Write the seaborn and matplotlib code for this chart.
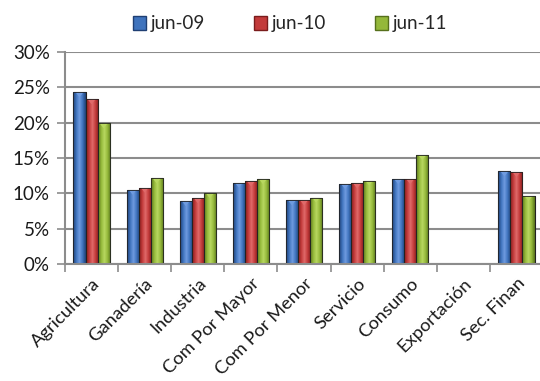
import numpy as np
import pandas as pd
import matplotlib
matplotlib.use("Agg")
import matplotlib.pyplot as plt
from matplotlib.colors import LinearSegmentedColormap
from matplotlib.ticker import PercentFormatter
from matplotlib.patches import Patch
import seaborn as sns

categories = ["Agricultura", "Ganadería", "Industria", "Com Por Mayor", "Com Por Menor",
              "Servicio", "Consumo", "Exportación", "Sec. Finan"]
series = ["jun-09", "jun-10", "jun-11"]
jun09 = [24.3, 10.5, 8.9, 11.5, 9.0, 11.3, 12.0, np.nan, 13.1]
jun10 = [23.3, 10.8, 9.3, 11.7, 9.0, 11.4, 12.0, np.nan, 13.0]
jun11 = [19.9, 12.1, 10.0, 12.0, 9.4, 11.8, 15.4, np.nan, 9.6]

df = pd.DataFrame({
    "categoria": categories * 3,
    "serie": [s for s in series for _ in categories],
    "valor": jun09 + jun10 + jun11,
})

base = {"jun-09": "#3f73bd", "jun-10": "#c33a3a", "jun-11": "#94b83a"}
dark = {"jun-09": "#1f3f73", "jun-10": "#7a1c1c", "jun-11": "#56701c"}
light = {"jun-09": "#6f9be0", "jun-10": "#e06a6a", "jun-11": "#b8d860"}

sns.set_style("white")
plt.rcParams["font.family"] = ["Lato", "DejaVu Sans"]

fig = plt.figure(figsize=(5.40, 3.81), dpi=100)
ax = fig.add_axes([65 / 540, 1 - 264 / 381, (543 - 65) / 540, (264 - 52) / 381])

sns.barplot(data=df, x="categoria", y="valor", hue="serie", palette=base,
            width=0.68, gap=0, ax=ax, legend=False, linewidth=0.8,
            edgecolor="#222222", saturation=1)

# cylinder-style horizontal shading on every bar
grad = np.linspace(0, 1, 64)[None, :]
for container, s in zip(ax.containers, series):
    cmap = LinearSegmentedColormap.from_list(
        s, [dark[s], base[s], light[s], base[s], dark[s]])
    for patch in container:
        h = patch.get_height()
        if not np.isfinite(h) or h <= 0:
            continue
        x0 = patch.get_x()
        w = patch.get_width()
        im = ax.imshow(grad, cmap=cmap, aspect="auto",
                       extent=(x0, x0 + w, 0, h), zorder=patch.get_zorder() + 0.1)
        im.set_clip_path(patch)
        # small bevel triangle on top of the bar
        ax.fill([x0 + w * 0.2, x0 + w * 0.8, x0 + w * 0.5],
                [h - 0.05, h - 0.05, h - 0.7],
                color=light[s], zorder=patch.get_zorder() + 0.2, lw=0)
        ax.add_patch(plt.Rectangle((x0, 0), w, h, fill=False, ec="#222222",
                                   lw=0.6, zorder=patch.get_zorder() + 0.3))

ax.set_xlim(-0.5, len(categories) - 0.5)
ax.set_ylim(0, 30)
ax.set_yticks(np.arange(0, 31, 5))
ax.yaxis.set_major_formatter(PercentFormatter(decimals=0))
ax.grid(axis="y", color="#8c8c8c", linewidth=1.5, zorder=0)
ax.set_axisbelow(True)
ax.set_xlabel("")
ax.set_ylabel("")

for side in ["top", "right"]:
    ax.spines[side].set_visible(False)
for side in ["left", "bottom"]:
    ax.spines[side].set_color("#8c8c8c")
    ax.spines[side].set_linewidth(1.5)

ax.tick_params(axis="y", length=6, width=1.2, color="#8c8c8c", direction="out",
               labelsize=13.5, pad=5, left=True)
ax.set_xticks(np.arange(len(categories)))
ax.set_xticklabels(categories, rotation=45, ha="right", rotation_mode="anchor",
                   fontsize=13.2, color="#1a1a1a")
ax.tick_params(axis="x", length=0, pad=8)
ax.set_xticks(np.arange(len(categories)) - 0.5, minor=True)
ax.tick_params(axis="x", which="minor", length=6, width=1.2, color="#8c8c8c",
               direction="out", bottom=True)
for lab in ax.get_yticklabels():
    lab.set_color("#1a1a1a")

handles = [Patch(facecolor=base[s], edgecolor=dark[s]) for s in series]
fig.legend(handles, series, loc="center", bbox_to_anchor=(0.537, 1 - 24 / 381),
           ncol=3, frameon=False, fontsize=13.5, handlelength=0.7, handleheight=0.7,
           handletextpad=0.25, columnspacing=2.6)

fig.savefig("out.png", dpi=100)
